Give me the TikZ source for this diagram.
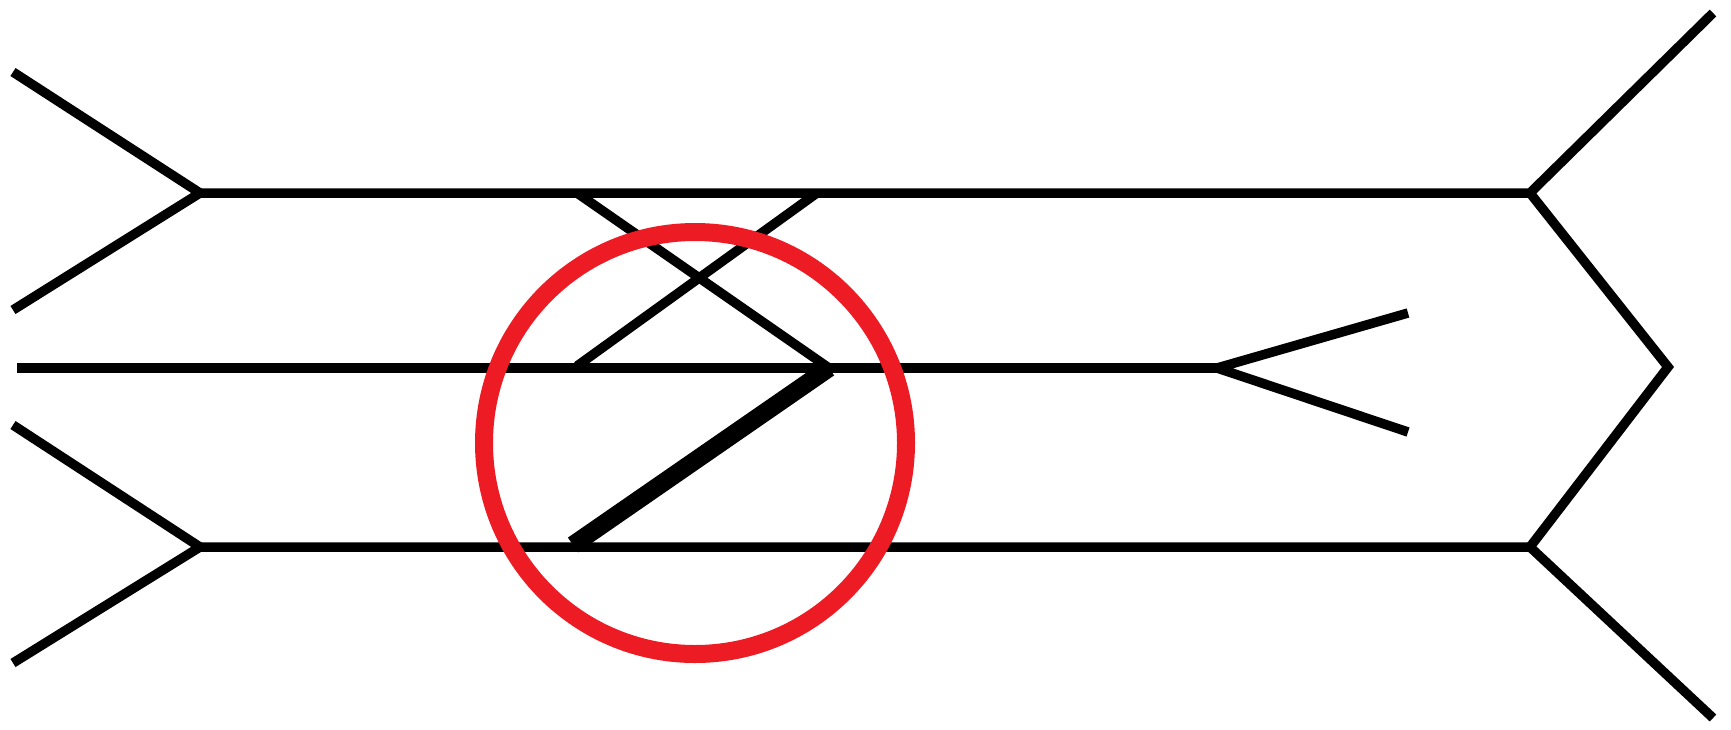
\documentclass[tikz,border=0pt]{standalone}
\usetikzlibrary{calc}
\definecolor{markred}{HTML}{ED1C24}
\begin{document}
\begin{tikzpicture}[x=1pt,y=-1pt,
  stroke/.style={draw=black,line width=9.5pt,line join=miter},
  heavy/.style={draw=black,line width=18pt},
  ring/.style={draw=markred,line width=18pt}]
\useasboundingbox (0,0) rectangle (1731,729);
% left chevrons
\coordinate (ltA) at (13,72);
\coordinate (ltV) at (200,193);
\coordinate (ltB) at (13,310);
\coordinate (lbA) at (13,425);
\coordinate (lbV) at (200,547);
\coordinate (lbB) at (13,663);
% right chevrons
\coordinate (rtA) at (1713,13);
\coordinate (rtV) at (1530,193);
\coordinate (rM) at (1668,367);
\coordinate (rbV) at (1530,547);
\coordinate (rbB) at (1713,718);
% middle line and fork
\coordinate (mL) at (17,368);
\coordinate (mV) at (1217,368);
\coordinate (mA) at (1408,313);
\coordinate (mB) at (1408,432);
% crossing lines
\coordinate (cA) at (577,193);
\coordinate (cV) at (829,368);
\coordinate (cB) at (817,193);
\coordinate (cE) at (577,366);
\coordinate (hE) at (573,545);
\draw[stroke] (ltA) -- (ltV) -- (ltB);
\draw[stroke] (lbA) -- (lbV) -- (lbB);
\draw[stroke] (ltV) -- (rtV) -- (rtA);
\draw[stroke] (rtV) -- (rM) -- (rbV);
\draw[stroke] (lbV) -- (rbV) -- (rbB);
\draw[stroke] (mL) -- (mV);
\draw[stroke] (mA) -- (mV) -- (mB);
\draw[stroke] (cA) -- (cV);
\draw[stroke] (cB) -- (cE);
\draw[heavy] (cV) -- (hE);
\node[ring,circle,minimum size=422pt,inner sep=0pt] (mark) at (695,443) {};
\end{tikzpicture}
\end{document}
